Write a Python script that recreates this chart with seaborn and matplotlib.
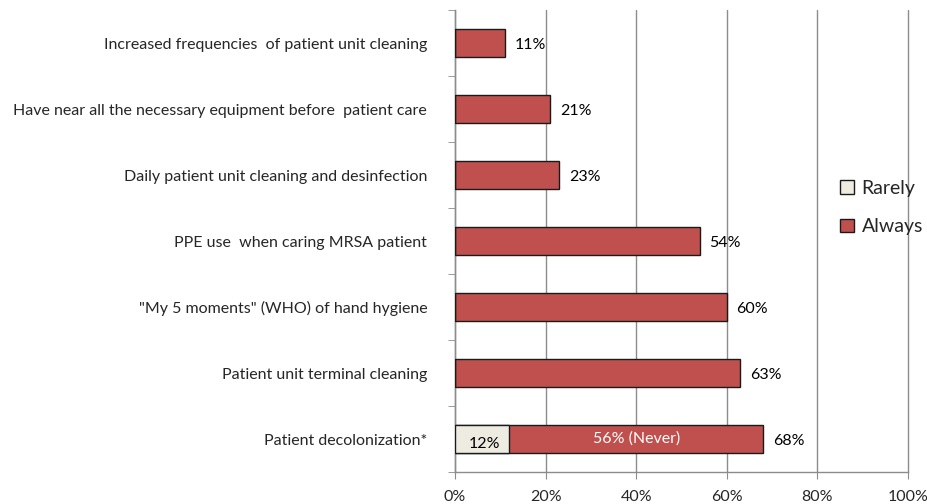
import matplotlib
matplotlib.use("Agg")
import matplotlib.pyplot as plt
import seaborn as sns
import pandas as pd
import numpy as np
from matplotlib.patches import Patch

categories = [
    "Increased frequencies  of patient unit cleaning",
    "Have near all the necessary equipment before  patient care",
    "Daily patient unit cleaning and desinfection",
    "PPE use  when caring MRSA patient",
    "\"My 5 moments\" (WHO) of hand hygiene",
    "Patient unit terminal cleaning",
    "Patient decolonization*",
]
always = [11, 21, 23, 54, 60, 63, 56]
rarely = [0, 0, 0, 0, 0, 0, 12]
total_labels = ["11%", "21%", "23%", "54%", "60%", "63%", "68%"]
rarely_label = "12%"
never_label = "56% (Never)"
x_ticks = [0, 20, 40, 60, 80, 100]

sns.set_style("white")
plt.rcParams["font.family"] = ["Lato", "DejaVu Sans"]

df = pd.DataFrame({"category": categories, "always": always, "rarely": rarely})
df["total"] = df["always"] + df["rarely"]

fig = plt.figure(figsize=(9.27, 5.04), dpi=100)
ax = fig.add_axes([0.4908, 0.0635, 0.9795 - 0.4908, 0.980 - 0.0635])

red = "#C0504D"
beige = "#EEECE1"
sns.barplot(data=df, y="category", x="total", color=red, orient="h", width=0.43,
            edgecolor="#1a1a1a", linewidth=1.0, ax=ax, saturation=1, zorder=3)
sns.barplot(data=df, y="category", x="rarely", color=beige, orient="h", width=0.43,
            edgecolor="#1a1a1a", linewidth=1.0, ax=ax, saturation=1, zorder=4)

ax.set_xlim(0, 100)
ax.set_ylim(len(categories) - 0.5, -0.5)
ax.set_xticks(x_ticks)
ax.set_xticklabels([f"{t}%" for t in x_ticks], fontsize=11.5)
ax.xaxis.grid(True, color="#8c8c8c", linewidth=1.0, zorder=0)
for gl in ax.get_xgridlines():
    gl.set_clip_on(False)
ax.set_axisbelow(True)
ax.set_xlabel("")
ax.set_ylabel("")

for s in ["top", "right"]:
    ax.spines[s].set_visible(False)
for s in ["left", "bottom"]:
    ax.spines[s].set_color("#8c8c8c")
    ax.spines[s].set_linewidth(1.0)

ax.tick_params(axis="x", length=5, color="#8c8c8c", pad=8, direction="out", bottom=True)
ax.tick_params(axis="y", which="major", length=0, pad=20, labelsize=11.5)
ax.set_yticks(np.arange(-0.5, len(categories), 1.0), minor=True)
ax.tick_params(axis="y", which="minor", length=5, color="#8c8c8c", direction="out", left=True)
ax.set_yticks(range(len(categories)))
ax.set_yticklabels(categories)

for i, (tot, lab) in enumerate(zip(df["total"], total_labels)):
    ax.annotate(lab, (tot, i + 0.03), xytext=(7, 0), textcoords="offset points",
                ha="left", va="center", fontsize=11.5, color="black")

i_last = len(categories) - 1
ax.text(rarely[-1] / 2 + 0.5, i_last + 0.08, rarely_label, ha="center", va="center",
        fontsize=11.5, color="black", zorder=6)
ax.text(rarely[-1] + always[-1] / 2, i_last, never_label, ha="center", va="center",
        fontsize=11.5, color="white", zorder=6)

handles = [Patch(facecolor=beige, edgecolor="#1a1a1a", linewidth=1.0, label="Rarely"),
           Patch(facecolor=red, edgecolor="#1a1a1a", linewidth=1.0, label="Always")]
fig.legend(handles=handles, loc="center left", bbox_to_anchor=(0.898, 0.588),
           frameon=False, fontsize=14, handlelength=0.7, handleheight=0.7,
           handletextpad=0.4, labelspacing=1.1, borderaxespad=0)

fig.savefig("out.png", dpi=100)
